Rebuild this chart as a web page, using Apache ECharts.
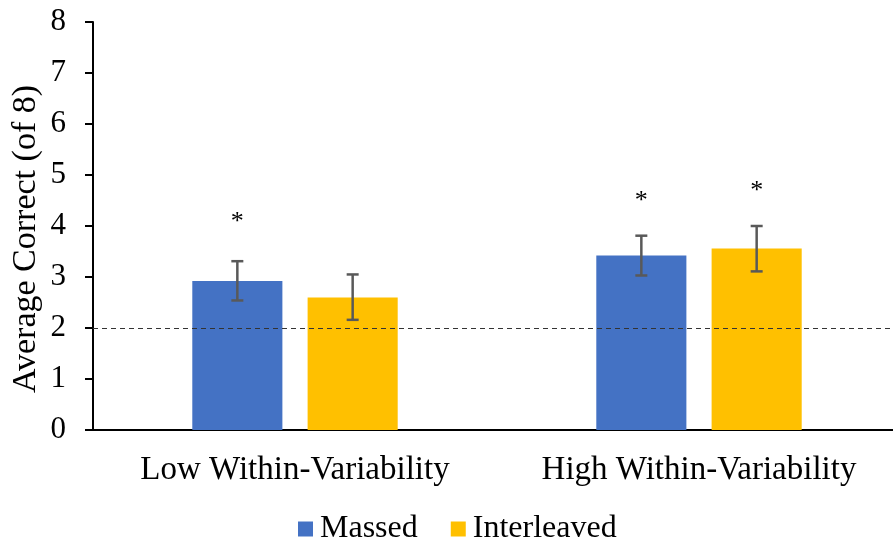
<!DOCTYPE html>
<html>
<head>
<meta charset="utf-8">
<script src="https://cdn.jsdelivr.net/npm/echarts@6/dist/echarts.min.js"></script>
<style>html,body{margin:0;padding:0;background:#fff}#c{width:893px;height:542px}</style>
</head>
<body>
<div id="c"></div>
<script>
const categories = ['Low Within-Variability', 'High Within-Variability'];
const seriesNames = ['Massed', 'Interleaved'];
const massed = [2.92, 3.42];
const interleaved = [2.60, 3.56];
const massedErrLow = [2.54, 3.03];
const massedErrHigh = [3.31, 3.81];
const interleavedErrLow = [2.16, 3.11];
const interleavedErrHigh = [3.05, 4.00];
const massedStarY = [4.15, 4.57];
const interleavedStarY = [null, 4.76];
const chanceLevel = 2;
const yTicks = [0, 1, 2, 3, 4, 5, 6, 7, 8];

const FONT = 'Liberation Serif';
const FS = 32;
const BAR_W = 0.223;
const BAR_GAP = 0.28;
const colors = ['#4472C4', '#FFC000'];

function errData(lo, hi, star, idx) {
  return categories.map((c, i) => [i, lo[i], hi[i], star[i] == null ? NaN : star[i], idx]);
}

function renderErr(params, api) {
  const cat = api.value(0);
  const idx = api.value(4);
  const band = api.size([1, 0])[0];
  const off = band * BAR_W * (1 + BAR_GAP) / 2 * (idx === 0 ? -1 : 1);
  const lo = api.coord([cat, api.value(1)]);
  const hi = api.coord([cat, api.value(2)]);
  const x = lo[0] + off;
  const cap = 6;
  const st = { stroke: '#595959', lineWidth: 2.5 };
  const children = [
    { type: 'line', shape: { x1: x, y1: lo[1], x2: x, y2: hi[1] }, style: st },
    { type: 'line', shape: { x1: x - cap, y1: lo[1], x2: x + cap, y2: lo[1] }, style: st },
    { type: 'line', shape: { x1: x - cap, y1: hi[1], x2: x + cap, y2: hi[1] }, style: st }
  ];
  const sv = api.value(3);
  if (!isNaN(sv)) {
    const s = api.coord([cat, sv]);
    children.push({ type: 'text', x: x, y: s[1] + 4, style: { text: '*', textAlign: 'center', textVerticalAlign: 'middle', fontFamily: FONT, fontSize: 26, fill: '#000' } });
  }
  return { type: 'group', children };
}

const chart = echarts.init(document.getElementById('c'), null, { renderer: 'canvas' });
chart.setOption({
  animation: false,
  grid: { left: 93, width: 808, top: 22, bottom: 112, containLabel: false, outerBoundsMode: 'none' },
  legend: {
    data: seriesNames,
    top: 513,
    left: 298,
    padding: 0,
    itemWidth: 15,
    itemHeight: 15,
    itemGap: 33,
    icon: 'rect',
    textStyle: { fontFamily: FONT, fontSize: FS, color: '#000', padding: [0, 0, 0, 2] }
  },
  graphic: [{
    type: 'text', x: 26, y: 239, rotation: Math.PI / 2,
    style: { text: 'Average Correct (of 8)', textAlign: 'center', textVerticalAlign: 'middle', fontFamily: FONT, fontSize: 34, fill: '#000' }
  }],
  xAxis: {
    type: 'category',
    data: categories,
    axisLine: { lineStyle: { color: '#000', width: 2 } },
    axisTick: { show: false },
    axisLabel: { fontFamily: FONT, fontSize: 33, color: '#000', margin: 24, interval: 0, hideOverlap: false }
  },
  yAxis: {
    type: 'value', min: 0, max: 8, interval: 1,
    axisLine: { show: true, lineStyle: { color: '#000', width: 2 } },
    axisTick: { show: true, length: 8, lineStyle: { color: '#000', width: 2 } },
    axisLabel: { fontFamily: FONT, fontSize: 31, color: '#000', margin: 27,
      formatter: v => yTicks.includes(v) ? String(v) : '' },
    splitLine: { show: false }
  },
  series: [
    {
      name: seriesNames[0], type: 'bar', data: massed, barWidth: (BAR_W * 100) + '%', barGap: (BAR_GAP * 100) + '%',
      itemStyle: { color: colors[0] },
      markLine: {
        silent: true, symbol: 'none', label: { show: false },
        lineStyle: { color: '#333', type: [5, 4], width: 1.2 },
        data: [{ yAxis: chanceLevel }]
      }
    },
    {
      name: seriesNames[1], type: 'bar', data: interleaved, barWidth: (BAR_W * 100) + '%', barGap: (BAR_GAP * 100) + '%',
      itemStyle: { color: colors[1] }
    },
    { type: 'custom', renderItem: renderErr, data: errData(massedErrLow, massedErrHigh, massedStarY, 0), z: 5, encode: { x: 0, y: [1, 2] } },
    { type: 'custom', renderItem: renderErr, data: errData(interleavedErrLow, interleavedErrHigh, interleavedStarY, 1), z: 5, encode: { x: 0, y: [1, 2] } }
  ]
});
</script>
</body>
</html>
